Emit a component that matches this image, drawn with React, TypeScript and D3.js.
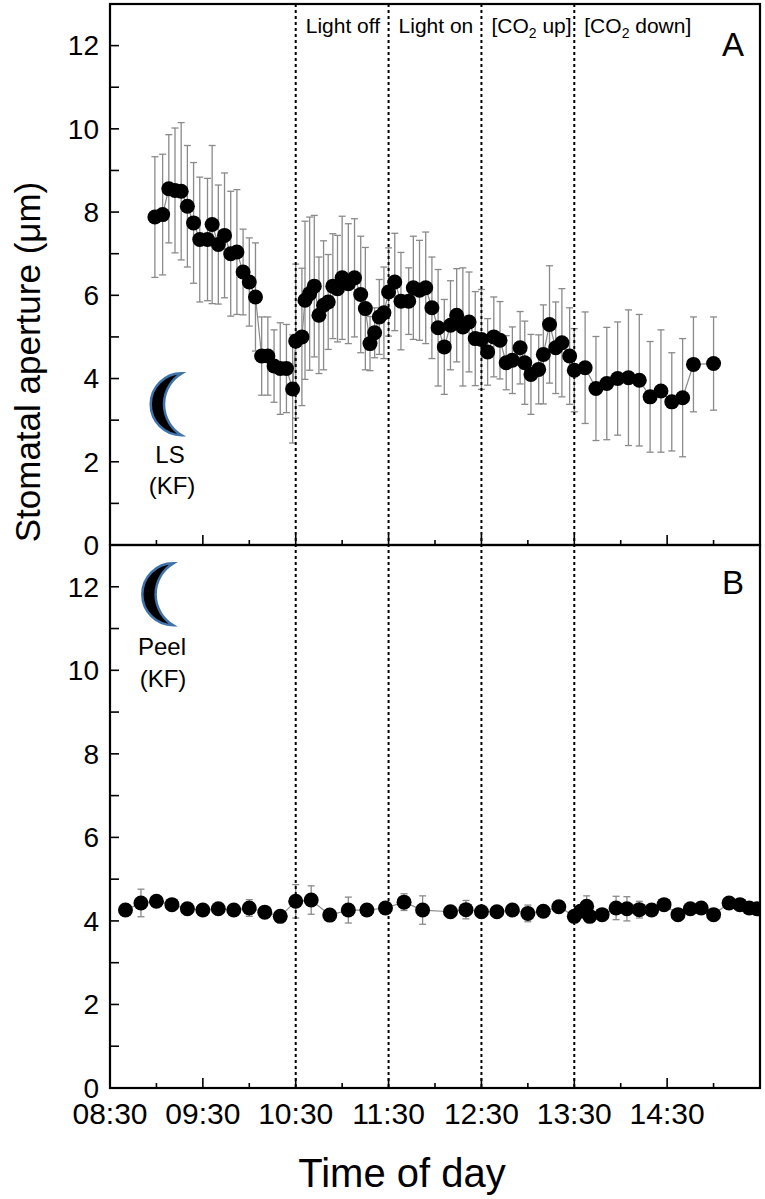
import React from 'react';
import * as d3 from 'd3';

// Panel A: leaf segment (LS), KF
const timesA = [
  '08:59', '09:04', '09:08', '09:12', '09:16', '09:20', '09:24', '09:28', '09:33', '09:36',
  '09:40', '09:44', '09:48', '09:52', '09:56', '10:00', '10:04', '10:08', '10:12', '10:16',
  '10:20', '10:24', '10:28', '10:30', '10:34', '10:36', '10:39', '10:42', '10:45', '10:48',
  '10:51', '10:54', '10:57', '11:00', '11:04', '11:08', '11:12', '11:15', '11:18', '11:21',
  '11:24', '11:27', '11:30', '11:34', '11:38', '11:43', '11:46', '11:50', '11:54', '11:58',
  '12:02', '12:06', '12:10', '12:14', '12:18', '12:22', '12:26', '12:30', '12:34', '12:38',
  '12:42', '12:46', '12:50', '12:55', '12:58', '13:02', '13:07', '13:10', '13:14', '13:18',
  '13:22', '13:27', '13:30', '13:37', '13:44', '13:51', '13:58', '14:05', '14:12', '14:19',
  '14:26', '14:33', '14:40', '14:47', '15:00',
];
const meanA = [
  7.88, 7.94, 8.56, 8.52, 8.5, 8.14, 7.74, 7.34, 7.34, 7.7,
  7.22, 7.44, 7.0, 7.04, 6.56, 6.32, 5.96, 4.54, 4.54, 4.3,
  4.24, 4.24, 3.75, 4.9, 5.0, 5.88, 6.04, 6.22, 5.52, 5.76,
  5.84, 6.22, 6.16, 6.42, 6.28, 6.42, 6.02, 5.68, 4.84, 5.1,
  5.48, 5.58, 6.08, 6.32, 5.86, 5.86, 6.18, 6.12, 6.18, 5.7,
  5.22, 4.76, 5.28, 5.52, 5.24, 5.36, 4.96, 4.94, 4.64, 5.0,
  4.92, 4.38, 4.44, 4.74, 4.38, 4.1, 4.22, 4.58, 5.3, 4.74,
  4.86, 4.54, 4.2, 4.26, 3.76, 3.88, 4.0, 4.02, 3.96, 3.56,
  3.7, 3.44, 3.54, 4.34, 4.36,
];
const sdA = [
  1.45, 1.45, 1.3, 1.5, 1.65, 1.46, 1.45, 1.5, 1.47, 1.9,
  1.43, 1.5, 1.5, 1.5, 1.03, 1.06, 1.3, 0.94, 0.94, 0.87,
  1.1, 1.06, 1.3, 1.85, 1.65, 1.9, 1.84, 1.7, 1.4, 1.55,
  1.14, 1.26, 1.28, 1.48, 1.44, 1.42, 1.4, 1.47, 0.65, 0.6,
  0.9, 1.1, 1.06, 1.17, 1.17, 0.8, 1.24, 1.2, 1.34, 1.22,
  1.4, 1.14, 1.07, 1.12, 1.42, 1.2, 1.13, 1.2, 0.8, 0.96,
  0.93, 0.65, 0.8, 0.87, 1.0, 0.96, 0.83, 1.19, 1.41, 1.1,
  1.3, 1.16, 1.0, 1.34, 1.25, 1.35, 1.36, 1.63, 1.58, 1.33,
  1.47, 1.18, 1.42, 1.14, 1.12,
];

// Panel B: epidermal peel, KF
const timesB = [
  '08:40', '08:50', '09:00', '09:10', '09:20', '09:30', '09:40', '09:50', '10:00', '10:10',
  '10:20', '10:30', '10:40', '10:52', '11:04', '11:16', '11:28', '11:40', '11:52', '12:10',
  '12:20', '12:30', '12:40', '12:50', '13:00', '13:10', '13:20', '13:30', '13:34', '13:38',
  '13:40', '13:48', '13:57', '14:04', '14:12', '14:20', '14:28', '14:37', '14:45', '14:52',
  '15:00', '15:10', '15:17', '15:23', '15:28',
];
const meanB = [
  4.26, 4.43, 4.47, 4.39, 4.29, 4.26, 4.29, 4.26, 4.31, 4.21,
  4.11, 4.47, 4.5, 4.14, 4.26, 4.26, 4.31, 4.45, 4.26, 4.22,
  4.27, 4.22, 4.22, 4.26, 4.18, 4.23, 4.34, 4.11, 4.23, 4.35,
  4.11, 4.15, 4.31, 4.29, 4.27, 4.26, 4.39, 4.15, 4.29, 4.31,
  4.15, 4.43, 4.39, 4.31, 4.29,
];
const sdB = [
  0.08, 0.33, 0.05, 0.08, 0.08, 0.12, 0.08, 0.08, 0.2, 0.08,
  0.08, 0.4, 0.34, 0.1, 0.31, 0.12, 0.08, 0.2, 0.34, 0.08,
  0.22, 0.08, 0.08, 0.08, 0.2, 0.08, 0.08, 0.1, 0.08, 0.25,
  0.08, 0.08, 0.28, 0.29, 0.2, 0.08, 0.08, 0.1, 0.1, 0.08,
  0.08, 0.08, 0.08, 0.08, 0.08,
];

const hourLabels = ['08:30', '09:30', '10:30', '11:30', '12:30', '13:30', '14:30'];
const yLabels = [0, 2, 4, 6, 8, 10, 12];
const switchTimes = ['10:30', '11:30', '12:30', '13:30'];
const switchLabels = ['Light off', 'Light on', '[CO2 up]', '[CO2 down]'];

const FONT = 'Arial, "Liberation Sans", Helvetica, sans-serif';
const W = 765;
const H = 1199;
const plotL = 110;
const plotR = 760;
const aTop = 4;
const mid = 545;
const bBottom = 1088;

const parse = d3.timeParse('%H:%M');
const x = d3.scaleTime().domain([parse('08:30')!, parse('15:30')!]).range([plotL, plotR]);
const yA = d3.scaleLinear().domain([0, 13]).range([mid, aTop]);
const yB = d3.scaleLinear().domain([0, 13]).range([bBottom, mid]);

type Pt = { t: Date; v: number; sd: number };
const toPts = (times: string[], means: number[], sds: number[]): Pt[] =>
  times.map((s, i) => ({ t: parse(s)!, v: means[i], sd: sds[i] }));

const ptsA = toPts(timesA, meanA, sdA);
const ptsB = toPts(timesB, meanB, sdB);

function Series({ pts, y, top, bottom, id }: { pts: Pt[]; y: d3.ScaleLinear<number, number>; top: number; bottom: number; id: string }) {
  const line = d3.line<Pt>().x(d => x(d.t)).y(d => y(d.v));
  return (
    <g>
      <clipPath id={id}>
        <rect x={plotL} y={top} width={plotR - plotL} height={bottom - top} />
      </clipPath>
      <g clipPath={`url(#${id})`}>
        {pts.map((d, i) => {
          const cx = x(d.t);
          const y1 = y(d.v + d.sd);
          const y2 = y(d.v - d.sd);
          return (
            <g key={i} stroke="#8a8a8a" strokeWidth={1.3}>
              <line x1={cx} x2={cx} y1={y1} y2={y2} />
              <line x1={cx - 3.5} x2={cx + 3.5} y1={y1} y2={y1} />
              <line x1={cx - 3.5} x2={cx + 3.5} y1={y2} y2={y2} />
            </g>
          );
        })}
        <path d={line(pts) ?? ''} fill="none" stroke="#8a8a8a" strokeWidth={1.2} />
        {pts.map((d, i) => (
          <circle key={i} cx={x(d.t)} cy={y(d.v)} r={7.5} fill="#000" />
        ))}
      </g>
    </g>
  );
}

function Moon({ tipX, tipY }: { tipX: number; tipY: number }) {
  const h = 62;
  const d = `M${tipX},${tipY} A31,31 0 0 0 ${tipX},${tipY + h} A36,36 0 0 1 ${tipX},${tipY} Z`;
  return <path d={d} fill="#000" stroke="#3f74ab" strokeWidth={2.5} strokeLinejoin="miter" />;
}

function YAxis({ y, top, bottom, labels }: { y: d3.ScaleLinear<number, number>; top: number; bottom: number; labels: number[] }) {
  return (
    <g>
      {d3.range(0, 13).map(v => (
        <line key={v} x1={plotL} x2={plotL + 9} y1={y(v)} y2={y(v)} stroke="#000" strokeWidth={1.6} />
      ))}
      {labels.map(v => (
        <text key={v} x={99} y={y(v)} dy="0.35em" textAnchor="end" fontSize={28} fontFamily={FONT}>
          {v}
        </text>
      ))}
      <rect x={plotL} y={top} width={plotR - plotL} height={bottom - top} fill="none" stroke="#000" strokeWidth={2.2} />
    </g>
  );
}

function XTicks({ yPos }: { yPos: number }) {
  const ticks = x.ticks(d3.timeMinute.every(30)!);
  return (
    <g>
      {ticks.map((t, i) => {
        const major = t.getMinutes() === 30;
        return (
          <line key={i} x1={x(t)} x2={x(t)} y1={yPos} y2={yPos - (major ? 10 : 5)} stroke="#000" strokeWidth={1.6} />
        );
      })}
    </g>
  );
}

function SwitchLabel({ text, x0 }: { text: string; x0: number }) {
  const m = text.match(/^(.*CO)2(.*)$/);
  return (
    <text x={x0} y={33} fontSize={21} fontFamily={FONT}>
      {m ? (
        <>
          <tspan>{m[1]}</tspan>
          <tspan dy={5} fontSize={14}>2</tspan>
          <tspan dy={-5}>{m[2]}</tspan>
        </>
      ) : (
        text
      )}
    </text>
  );
}

export default function App() {
  return (
    <svg
      width={W}
      height={H}
      viewBox={`0 0 ${W} ${H}`}
      style={{ position: 'absolute', left: 0, top: 0, background: '#fff' }}
    >
      <rect width={W} height={H} fill="#fff" />

      <Series pts={ptsA} y={yA} top={aTop} bottom={mid} id="clipA" />
      <Series pts={ptsB} y={yB} top={mid} bottom={bBottom} id="clipB" />

      {switchTimes.map(s => (
        <line
          key={s}
          x1={x(parse(s)!)}
          x2={x(parse(s)!)}
          y1={aTop}
          y2={bBottom}
          stroke="#000"
          strokeWidth={2}
          strokeDasharray="3 3"
        />
      ))}
      {switchLabels.map((l, i) => (
        <SwitchLabel key={l} text={l} x0={x(parse(switchTimes[i])!) + 10} />
      ))}

      <YAxis y={yA} top={aTop} bottom={mid} labels={yLabels} />
      <YAxis y={yB} top={mid} bottom={bBottom} labels={yLabels} />
      <XTicks yPos={mid} />
      <XTicks yPos={bBottom} />

      {hourLabels.map(s => (
        <text key={s} x={x(parse(s)!)} y={1124} textAnchor="middle" fontSize={30} fontFamily={FONT}>
          {s}
        </text>
      ))}

      <text x={733} y={56} textAnchor="middle" fontSize={33} fontFamily={FONT}>A</text>
      <text x={733} y={594} textAnchor="middle" fontSize={33} fontFamily={FONT}>B</text>

      <Moon tipX={181.7} tipY={373.3} />
      <text x={170} y={463} textAnchor="middle" fontSize={24} fontFamily={FONT}>LS</text>
      <text x={172} y={494} textAnchor="middle" fontSize={24} fontFamily={FONT}>(KF)</text>

      <Moon tipX={173.3} tipY={563.3} />
      <text x={162} y={655} textAnchor="middle" fontSize={24} fontFamily={FONT}>Peel</text>
      <text x={163} y={687} textAnchor="middle" fontSize={24} fontFamily={FONT}>(KF)</text>

      <text
        transform="translate(40,362) rotate(-90)"
        textAnchor="middle"
        fontSize={35}
        fontFamily={FONT}
      >
        Stomatal aperture (μm)
      </text>
      <text x={402} y={1187} textAnchor="middle" fontSize={40} fontFamily={FONT}>Time of day</text>
    </svg>
  );
}
